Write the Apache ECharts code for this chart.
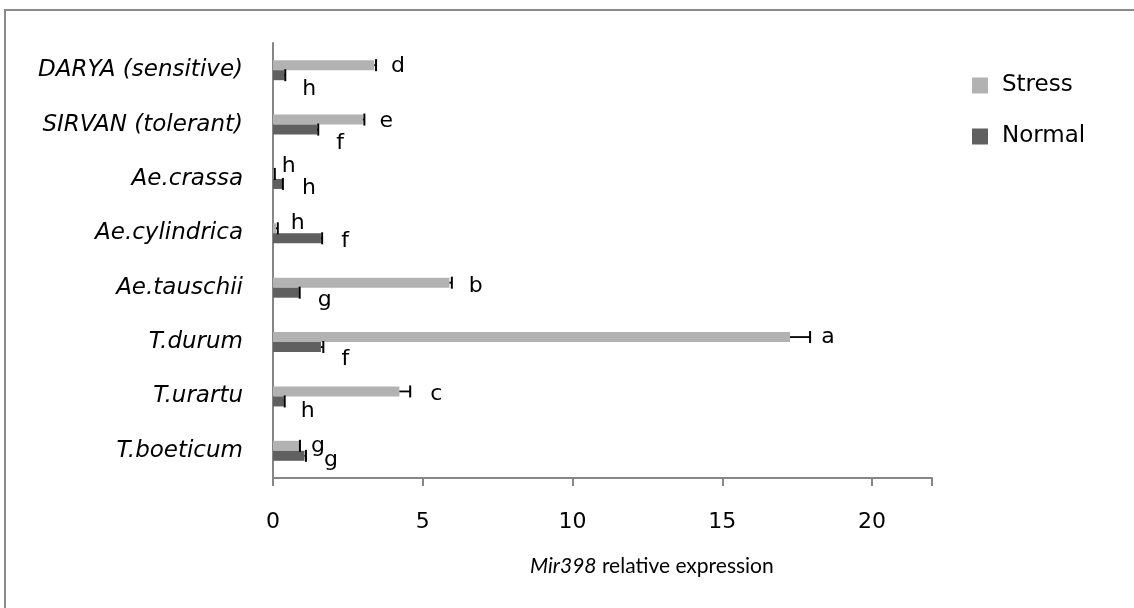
<!DOCTYPE html>
<html>
<head>
<meta charset="utf-8">
<script src="https://cdn.jsdelivr.net/npm/echarts@6/dist/echarts.min.js"></script>
<style>
html,body{margin:0;padding:0;background:#fff;}
#chart{width:1134px;height:608px;}
</style>
</head>
<body>
<div id="chart"></div>
<script>
// ---- data ----
var categories = ['DARYA (sensitive)', 'SIRVAN (tolerant)', 'Ae.crassa', 'Ae.cylindrica', 'Ae.tauschii', 'T.durum', 'T.urartu', 'T.boeticum'];
var stressValues = [3.38, 3.00, 0.04, 0.10, 5.89, 17.26, 4.22, 0.87];
var stressErrors = [0.06, 0.05, 0.02, 0.06, 0.08, 0.67, 0.36, 0.03];
var stressLetters = ['d', 'e', 'h', 'h', 'b', 'a', 'c', 'g'];
var normalValues = [0.38, 1.47, 0.30, 1.60, 0.86, 1.60, 0.36, 1.05];
var normalErrors = [0.03, 0.04, 0.03, 0.04, 0.03, 0.08, 0.03, 0.05];
var normalLetters = ['h', 'f', 'h', 'f', 'g', 'f', 'h', 'g'];
var xTicks = [0, 5, 10, 15, 20];

// ---- layout of letter annotations (pixel nudges from error-bar cap) ----
var stressLetterDx = [22, 22, 14, 20, 24, 18, 26, 18];
var stressLetterDy = [1, 2, -8, -5, 4, 0, 3, 0];
var normalLetterDx = [24, 22, 26, 23, 25, 22, 23, 25];
var normalLetterDy = [14, 14, 4, 3, 8, 12, 10, 4];

var FONT = '"DejaVu Sans", sans-serif';
var TITLE_FONT = 'Lato, "Open Sans", sans-serif';
var BAR_W = 10;
var STRESS_COLOR = '#b2b2b2';
var NORMAL_COLOR = '#606060';

function errData(vals, errs) {
  return vals.map(function (v, i) { return [v, i, errs[i]]; });
}

function makeErrRender(shift, letters, dxs, dys) {
  return function (params, api) {
    var v = api.value(0), ci = api.value(1), e = api.value(2);
    var p0 = api.coord([v, ci]);
    var p1 = api.coord([v + e, ci]);
    var y = p0[1] + shift;
    var idx = params.dataIndex;
    return {
      type: 'group',
      children: [
        { type: 'line', shape: { x1: p0[0], y1: y, x2: p1[0], y2: y }, style: { stroke: '#000', lineWidth: 1.8 } },
        { type: 'line', shape: { x1: p1[0], y1: y - 6, x2: p1[0], y2: y + 6 }, style: { stroke: '#000', lineWidth: 2 } },
        { type: 'text', style: { text: letters[idx], x: p1[0] + dxs[idx], y: y + dys[idx], fill: '#000', font: '22px ' + FONT, textAlign: 'center', textVerticalAlign: 'middle' } }
      ]
    };
  };
}

var chart = echarts.init(document.getElementById('chart'));
chart.setOption({
  backgroundColor: '#fff',
  animation: false,
  grid: { left: 273, right: 202, top: 43, bottom: 130 },
  legend: {
    orient: 'vertical', left: 967, top: 69, itemWidth: 16, itemHeight: 16, itemGap: 28,
    icon: 'rect', data: ['Stress', 'Normal'],
    textStyle: { fontFamily: FONT, fontSize: 23, color: '#000', padding: [0, 0, 0, 9] }
  },
  xAxis: {
    type: 'value', min: 0, max: 22, interval: 5,
    axisLine: { show: true, lineStyle: { color: '#868686', width: 2 } },
    axisTick: { show: true, length: 8, lineStyle: { color: '#868686', width: 2 } },
    splitLine: { show: false },
    axisLabel: {
      margin: 33, fontFamily: FONT, fontSize: 22, color: '#000',
      formatter: function (v) { return xTicks.indexOf(v) >= 0 ? String(v) : ''; }
    }
  },
  yAxis: {
    type: 'category', inverse: true, data: categories,
    axisLine: { show: true, lineStyle: { color: '#868686', width: 2 } },
    axisTick: { show: false },
    axisLabel: { margin: 30, fontFamily: FONT, fontSize: 23, fontStyle: 'italic', color: '#000' }
  },
  graphic: [
    { type: 'rect', shape: { x: 5, y: 10, width: 1300, height: 800 }, style: { fill: 'none', stroke: '#8a8a8a', lineWidth: 2 }, silent: true },
    { type: 'text', left: 530, top: 556, style: {
        text: '{i|Mir398} relative expression',
        font: '21px ' + TITLE_FONT, fill: '#000',
        rich: { i: { fontStyle: 'italic', fontSize: 21, fontFamily: TITLE_FONT } }
      } }
  ],
  series: [
    { name: 'Stress', type: 'bar', data: stressValues, barWidth: BAR_W, barGap: '0%', itemStyle: { color: STRESS_COLOR } },
    { name: 'Normal', type: 'bar', data: normalValues, barWidth: BAR_W, barGap: '0%', itemStyle: { color: NORMAL_COLOR } },
    { name: 'StressErr', type: 'custom', data: errData(stressValues, stressErrors), encode: { x: 0, y: 1 },
      renderItem: makeErrRender(-BAR_W / 2, stressLetters, stressLetterDx, stressLetterDy), z: 5 },
    { name: 'NormalErr', type: 'custom', data: errData(normalValues, normalErrors), encode: { x: 0, y: 1 },
      renderItem: makeErrRender(BAR_W / 2, normalLetters, normalLetterDx, normalLetterDy), z: 5 }
  ]
});
</script>
</body>
</html>
